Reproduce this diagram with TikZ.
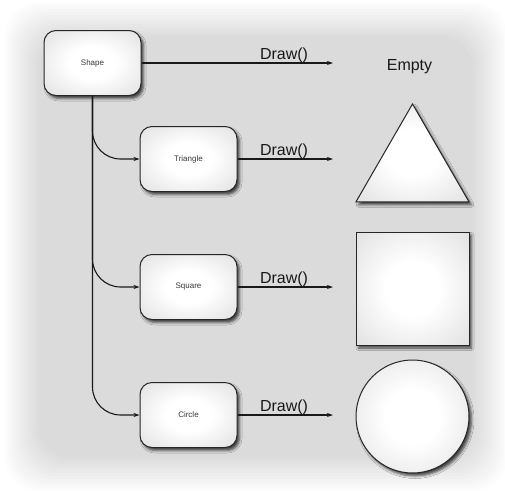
\documentclass[tikz,border=0pt]{standalone}
\usepackage{fontspec}
\setmainfont{Liberation Sans}
\usetikzlibrary{shadows.blur,arrows.meta,shapes.geometric}

% white centre fading to a light grey rim
\pgfdeclareradialshading{softglow}{\pgfpoint{0bp}{0bp}}{%
  color(0bp)=(white); color(12bp)=(white);
  color(34bp)=(black!11); color(50bp)=(black!19)}

\begin{document}
\begin{tikzpicture}[x=1pt,y=-1pt,
  softshadow/.style={blur shadow={shadow xshift=2.5pt, shadow yshift=-3pt,
      shadow blur radius=2.5pt, shadow opacity=70}},
  glossy/.style={draw=black!85, line width=1pt, shading=softglow, softshadow},
  classbox/.style={glossy, rectangle, rounded corners=12pt,
      minimum width=97pt, minimum height=65pt, inner sep=0pt,
      font=\fontsize{8}{9}\selectfont, text=black!78},
  conn/.style={line width=1.1pt, black!90,
      -{Stealth[length=6pt,width=4pt]}},
  branch/.style={conn, rounded corners=28pt},
  calllabel/.style={anchor=base, inner sep=0pt,
      font=\fontsize{16}{18}\selectfont, text=black!90}
]
\useasboundingbox (0,0) rectangle (505,501);

% soft grey panel behind everything
\fill[white] (0,0) rectangle (505,501);
\foreach \i in {0,...,11}
  \fill[black, opacity=0.01, rounded corners=34pt]
    (38-3*\i, 36-3*\i) rectangle (474+3*\i, 458+3*\i);

% class boxes
\node[classbox] (shape)    at (92.5, 63)  {Shape};
\node[classbox] (triangle) at (188.5,159) {Triangle};
\node[classbox] (square)   at (188.5,287) {Square};
\node[classbox] (circle)   at (188.5,415) {Circle};

% inheritance branches from the base class
\draw[branch] (shape.south) |- (triangle.west);
\draw[branch] (shape.south) |- (square.west);
\draw[branch] (shape.south) |- (circle.west);

% Draw() calls
\coordinate (e0) at (333, 63);
\coordinate (e1) at (333,159);
\coordinate (e2) at (333,287);
\coordinate (e3) at (333,415);
\draw[conn] (shape.east)    -- (e0);
\draw[conn] (triangle.east) -- (e1);
\draw[conn] (square.east)   -- (e2);
\draw[conn] (circle.east)   -- (e3);
\node[calllabel] (d0) at (284, 59)  {Draw()};
\node[calllabel] (d1) at (284,155)  {Draw()};
\node[calllabel] (d2) at (284,283)  {Draw()};
\node[calllabel] (d3) at (284,411)  {Draw()};

% results
\node[calllabel] (empty) at (409.5,70) {Empty};
\node[glossy, regular polygon, regular polygon sides=3,
      minimum size=130.5pt, inner sep=0pt] (tri) at (412.5,169.2) {};
\node[glossy, rectangle, minimum size=113pt, inner sep=0pt]
      (sq) at (412.5,288.5) {};
\node[glossy, circle, minimum size=113pt, inner sep=0pt]
      (ci) at (412.5,416.5) {};
\end{tikzpicture}
\end{document}
